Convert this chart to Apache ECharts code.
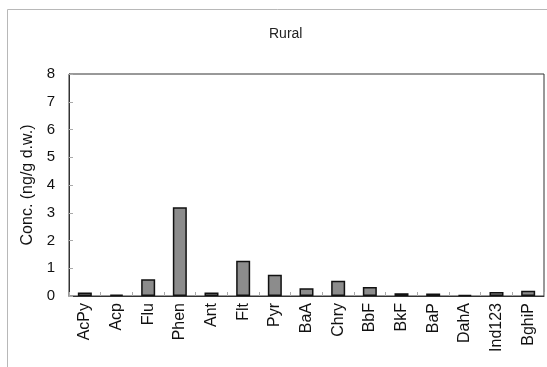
<!DOCTYPE html>
<html>
<head>
<meta charset="utf-8">
<script src="https://cdn.jsdelivr.net/npm/echarts@6/dist/echarts.min.js"></script>
<style>
  html, body { margin: 0; padding: 0; background: #fff; }
  #chart { width: 547px; height: 367px; }
</style>
</head>
<body>
<div id="chart"></div>
<script>
// PAH compounds measured at the rural site
const compounds = ['AcPy', 'Acp', 'Flu', 'Phen', 'Ant', 'Flt', 'Pyr', 'BaA', 'Chry', 'BbF', 'BkF', 'BaP', 'DahA', 'Ind123', 'BghiP'];
// Concentrations, ng/g dry weight
const concentrations = [0.13, 0.05, 0.60, 3.20, 0.13, 1.27, 0.77, 0.28, 0.55, 0.32, 0.10, 0.09, 0.04, 0.14, 0.19];
const yTicks = [0, 1, 2, 3, 4, 5, 6, 7, 8];

const chart = echarts.init(document.getElementById('chart'), null, { renderer: 'canvas' });
const fontFamily = '"Liberation Sans", Arial, sans-serif';

chart.setOption({
  animation: false,
  backgroundColor: '#fff',
  graphic: [{
    type: 'rect',
    shape: { x: 7.5, y: 9.5, width: 620, height: 420 },
    style: { fill: 'none', stroke: '#b8b8b8', lineWidth: 1 },
    silent: true
  }],
  title: {
    text: 'Rural',
    left: 264,
    top: 22,
    textStyle: { fontFamily, fontSize: 14, fontWeight: 'normal', color: '#222' }
  },
  grid: {
    left: 69, right: 3, top: 74, bottom: 71,
    show: true, borderColor: '#333', borderWidth: 1, backgroundColor: 'transparent'
  },
  xAxis: {
    type: 'category',
    data: compounds,
    axisLine: { lineStyle: { color: '#333', width: 1 } },
    axisTick: { show: true, inside: true, length: 4, lineStyle: { color: '#aaa' } },
    axisLabel: { rotate: 90, fontFamily, fontSize: 16, color: '#111', margin: 7 }
  },
  yAxis: {
    type: 'value',
    min: yTicks[0],
    max: yTicks[yTicks.length - 1],
    interval: 1,
    name: 'Conc. (ng/g d.w.)',
    nameLocation: 'middle',
    nameGap: 29,
    nameTextStyle: { fontFamily, fontSize: 16, color: '#111' },
    axisLine: { show: true, lineStyle: { color: '#333', width: 1 } },
    axisTick: { show: true, inside: true, length: 4, lineStyle: { color: '#aaa' } },
    splitLine: { show: false },
    axisLabel: { fontFamily, fontSize: 15, color: '#111', margin: 14 }
  },
  series: [{
    type: 'bar',
    data: concentrations,
    barWidth: 14,
    itemStyle: { color: '#8c8c8c', borderColor: '#111', borderWidth: 1.5 }
  }]
});
</script>
</body>
</html>
